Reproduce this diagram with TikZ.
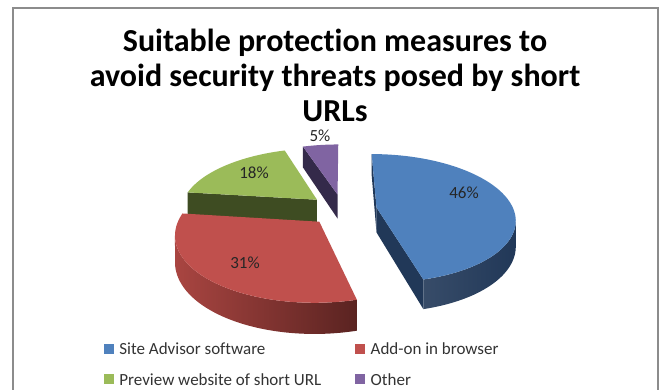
\documentclass[tikz,border=0pt]{standalone}
\usepackage{fontspec}
\setmainfont{Carlito}[Ligatures=CommonOff]
\usetikzlibrary{positioning}

\definecolor{blueTop}{HTML}{4F81BD}
\definecolor{blueSide}{HTML}{213858}
\definecolor{redTop}{HTML}{C0504D}
\definecolor{redSideL}{HTML}{A94541}
\definecolor{redSideR}{HTML}{5A2321}
\definecolor{greenTop}{HTML}{9BBB59}
\definecolor{greenSide}{HTML}{3E4C22}
\definecolor{purpleTop}{HTML}{8064A2}
\definecolor{purpleSide}{HTML}{342A4A}
\definecolor{frameGray}{HTML}{8C8C8C}

% #1 #2 = exploded centre of the slice (disc units)
\newcommand{\slicetop}[5]{%
  \fill[#5] ({px(#1,#2)},{py(#2)})
    -- plot[domain=#3:#4] ({px(#1+cos(\x),#2+sin(\x))},{py(#2+sin(\x))})
    -- cycle;}
\newcommand{\slicecut}[4]{%
  \fill[#4] ({px(#1,#2)},{py(#2)})
    -- ({px(#1+cos(#3),#2+sin(#3))},{py(#2+sin(#3))})
    -- ({px(#1+cos(#3),#2+sin(#3))},{py(#2+sin(#3))+th(#2+sin(#3))})
    -- ({px(#1,#2)},{py(#2)+th(#2)}) -- cycle;}
\newcommand{\slicewall}[5]{%
  \path[#5] plot[domain=#3:#4] ({px(#1+cos(\x),#2+sin(\x))},{py(#2+sin(\x))})
    -- plot[domain=#4:#3] ({px(#1+cos(\x),#2+sin(\x))},{py(#2+sin(\x))+th(#2+sin(\x))})
    -- cycle;}

\begin{document}
\begin{tikzpicture}[x=1pt, y=-1pt, samples=60,
    declare function={sc(\v)=6/(6+\v);
      px(\u,\v)=342.7+137*\u*sc(\v);
      py(\v)=209.5-63*\v*sc(\v);
      th(\v)=25*sc(\v);},
    titletext/.style={align=center, inner sep=0pt, text=black,
      font=\bfseries\fontsize{32}{35}\selectfont},
    pct/.style={inner sep=0pt, text=black!85, font=\fontsize{17}{20}\selectfont},
    legsq/.style={rectangle, minimum size=10pt, inner sep=0pt},
    legtext/.style={inner sep=0pt, anchor=west, text=black!80,
      font=\fontsize{17}{20}\selectfont}]

    \useasboundingbox (0,0) rectangle (659,389);
    \draw[frameGray, line width=2pt] (12.5,395) -- (12.5,8) -- (657.7,8) -- (657.7,395);

    \node[titletext] (title) at (335,75) {Suitable protection measures to\\avoid security threats posed by short\\URLs};

    % Other
    \slicecut{-0.0391}{0.2469}{108}{purpleSide}
    \slicetop{-0.0391}{0.2469}{90}{108}{purpleTop}
    % Preview website
    \slicecut{-0.1927}{0.1593}{172.8}{greenSide}
    \slicetop{-0.1927}{0.1593}{108}{172.8}{greenTop}
    % Site Advisor
    \slicecut{0.2480}{0.0313}{90}{blueSide}
    \slicecut{0.2480}{0.0313}{-75.6}{blueSide}
    \slicewall{0.2480}{0.0313}{-75.6}{-11.9}{left color=blueSide!90!white, right color=blueSide}
    \slicetop{0.2480}{0.0313}{-75.6}{90}{blueTop}
    % Add-on
    \slicewall{-0.1653}{-0.1876}{191.5}{284.4}{left color=redSideL, right color=redSideR}
    \slicetop{-0.1653}{-0.1876}{172.8}{284.4}{redTop}

    \node[pct] (pct46) at (464,193) {46\%};
    \node[pct] (pct31) at (245,263) {31\%};
    \node[pct] (pct18) at (254,173) {18\%};
    \node[pct] (pct5) at (320,136) {5\%};

    \node[legsq, fill=blueTop] (sqSite) at (109,349) {};
    \node[legtext, right=5pt of sqSite] (legSite) {Site Advisor software};
    \node[legsq, fill=greenTop, below=20pt of sqSite] (sqPreview) {};
    \node[legtext, right=5pt of sqPreview] (legPreview) {Preview website of short URL};
    \node[legsq, fill=redTop] (sqAddon) at (360.3,349) {};
    \node[legtext, right=5pt of sqAddon] (legAddon) {Add-on in browser};
    \node[legsq, fill=purpleTop, below=20pt of sqAddon] (sqOther) {};
    \node[legtext, right=5pt of sqOther] (legOther) {Other};
\end{tikzpicture}
\end{document}
